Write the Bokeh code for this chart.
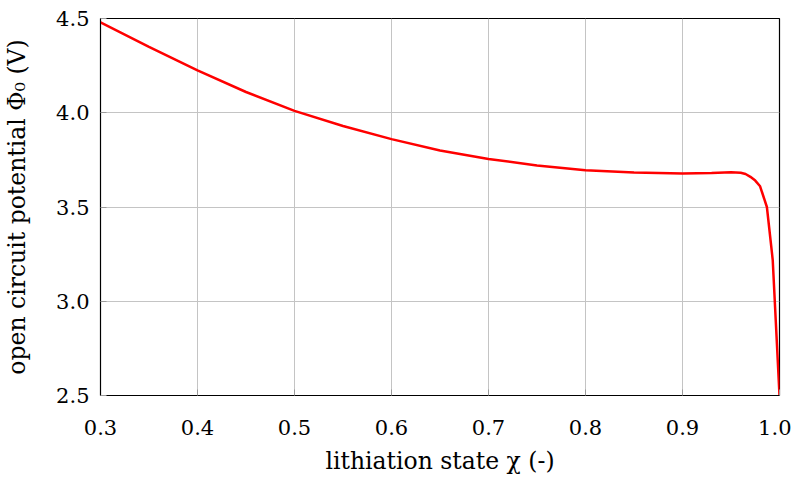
from bokeh.plotting import figure
from bokeh.models import Range1d, FixedTicker, CustomJSTickFormatter
from bokeh.embed import file_html
from bokeh.resources import INLINE

# data
chi = [0.30, 0.35, 0.40, 0.45, 0.50, 0.55, 0.60, 0.65, 0.70, 0.75, 0.80,
       0.85, 0.90, 0.93, 0.95, 0.96, 0.965, 0.97, 0.975, 0.98, 0.987, 0.993, 1.0]
phi0 = [4.48, 4.35, 4.225, 4.11, 4.01, 3.93, 3.86, 3.80, 3.755, 3.72, 3.695,
        3.683, 3.678, 3.68, 3.685, 3.682, 3.675, 3.66, 3.64, 3.61, 3.50, 3.22, 2.5]

x_ticks = [0.3, 0.4, 0.5, 0.6, 0.7, 0.8, 0.9, 1.0]
y_ticks = [2.5, 3.0, 3.5, 4.0, 4.5]

FONT = "DejaVu Serif"

p = figure(width=791, height=477, output_backend="svg", toolbar_location=None,
           x_range=Range1d(0.3, 1.0), y_range=Range1d(2.5, 4.5),
           min_border_left=100, min_border_right=12, min_border_top=18,
           min_border_bottom=81)

p.line(chi, phi0, line_color="#ff0000", line_width=2.5)

p.outline_line_color = "black"
p.outline_line_width = 1.2
p.outline_line_alpha = 1.0

for ax, ticks in ((p.xaxis[0], x_ticks), (p.yaxis[0], y_ticks)):
    ax.ticker = FixedTicker(ticks=ticks)
    ax.axis_line_color = "black"
    ax.major_tick_in = 6
    ax.major_tick_out = 0
    ax.major_tick_line_color = "#9a9a9a"
    ax.minor_tick_line_color = None
    ax.major_label_text_font = FONT
    ax.major_label_text_font_size = "21px"
    ax.major_label_text_color = "black"
    ax.axis_label_text_font = FONT
    ax.axis_label_text_font_size = "23.5px"
    ax.axis_label_text_font_style = "normal"
    ax.axis_label_text_color = "black"
    ax.formatter = CustomJSTickFormatter(code="return tick.toFixed(1);")

p.xaxis[0].axis_label = "lithiation state χ (-)"
p.yaxis[0].axis_label = "open circuit potential Φ₀ (V)"
p.xaxis[0].major_label_standoff = 24
p.yaxis[0].major_label_standoff = 11
p.xaxis[0].axis_label_standoff = 9
p.yaxis[0].axis_label_standoff = 22

p.xgrid.ticker = FixedTicker(ticks=x_ticks)
p.ygrid.ticker = FixedTicker(ticks=y_ticks)
p.grid.grid_line_color = "#c4c4c4"
p.grid.grid_line_width = 1

p.background_fill_color = "white"
p.border_fill_color = "white"

open("out.html", "w").write(file_html(p, INLINE))
